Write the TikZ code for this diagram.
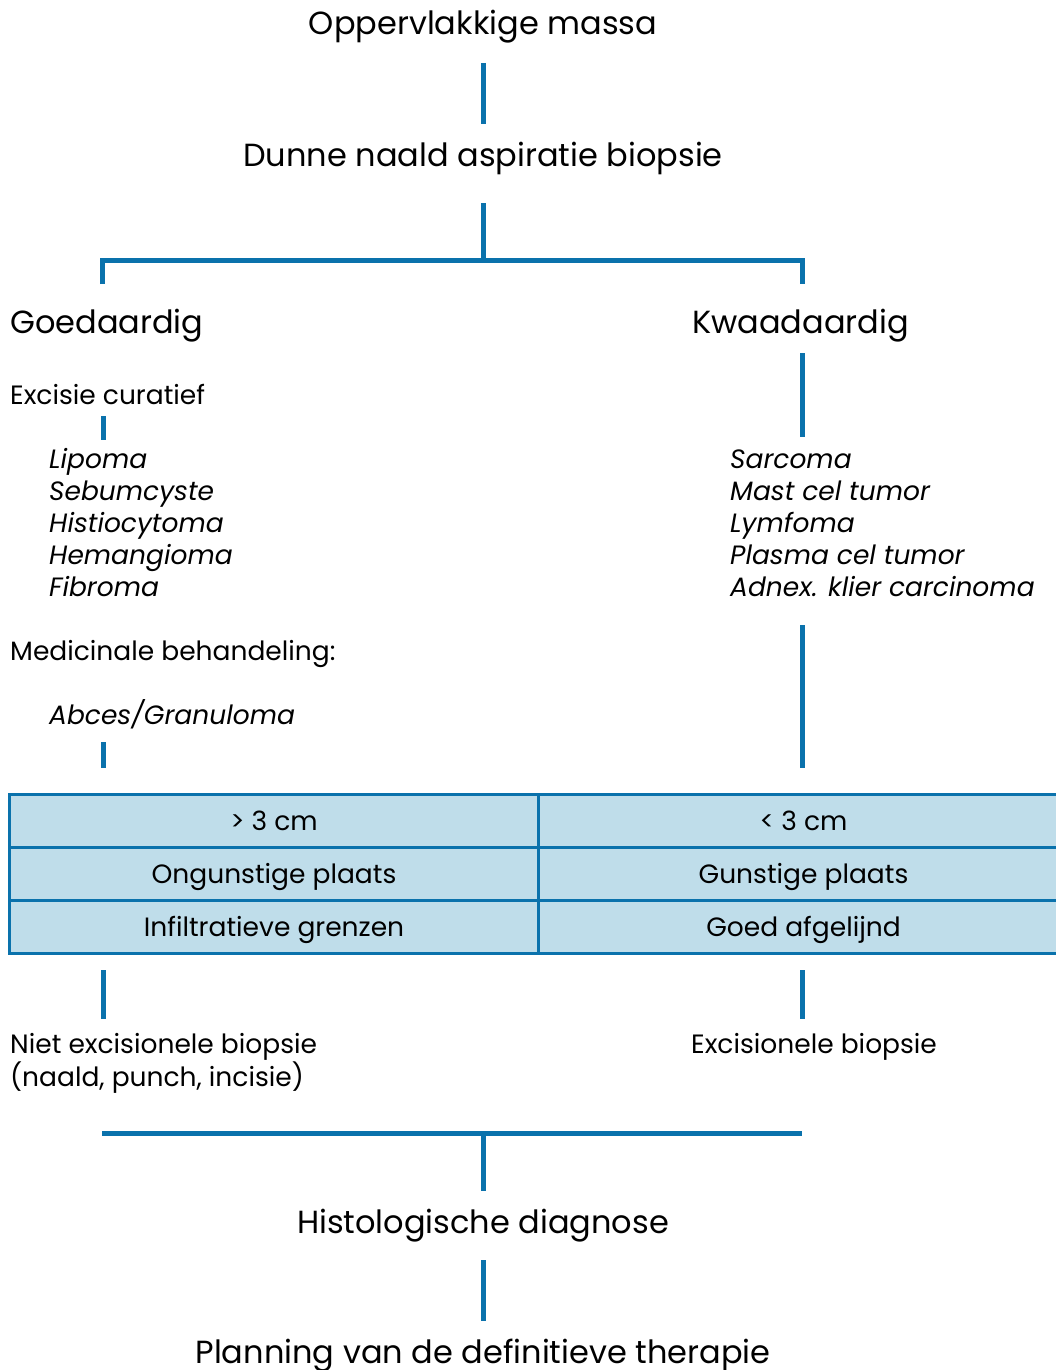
\documentclass[tikz,border=0pt]{standalone}
\usepackage{fontspec}
\setmainfont{Poppins}
\usetikzlibrary{positioning}
\definecolor{lijnblauw}{HTML}{0A72AC}
\definecolor{celblauw}{HTML}{BFDDEA}
\tikzset{
  lijn/.style={draw=lijnblauw, line width=5pt},
  kop/.style={inner sep=0pt, anchor=base, font=\fontsize{32}{38}\selectfont},
  tekst/.style={inner sep=0pt, anchor=base west, font=\fontsize{26.5}{32}\selectfont},
  ziekte/.style={tekst, font=\fontsize{26.5}{32}\selectfont\itshape},
  cel/.style={draw=lijnblauw, line width=2.5pt, fill=celblauw, inner sep=0pt,
    minimum width=529pt, minimum height=53pt, text height=19pt, text depth=0pt,
    font=\fontsize{26.5}{32}\selectfont}
}

\begin{document}
\begin{tikzpicture}[x=1pt,y=-1pt]
\useasboundingbox (0,0) rectangle (1055,1370);
% koppen
\node[kop] (massa) at (483,35) {Oppervlakkige massa};
\node[kop] (dunne) at (483,166) {Dunne naald aspiratie biopsie};
\node[kop, anchor=base west] (goed) at (10,333) {Goedaardig};
\node[kop, anchor=base west] (kwaad) at (692,333) {Kwaadaardig};
\node[kop] (histo) at (483,1233) {Histologische diagnose};
\node[kop] (planning) at (483,1363) {Planning van de definitieve therapie};
% goedaardig
\node[tekst] (curatief) at (10,404) {Excisie curatief};
\node[ziekte] (lipoma) at (49,468) {Lipoma};
\node[ziekte] (sebum) at (49,500) {Sebumcyste};
\node[ziekte] (histio) at (49,532) {Histiocytoma};
\node[ziekte] (heman) at (49,564) {Hemangioma};
\node[ziekte] (fibroma) at (49,596) {Fibroma};
\node[tekst] (medic) at (10,660) {Medicinale behandeling:};
\node[ziekte] (abces) at (49,724) {Abces/Granuloma};
% kwaadaardig
\node[ziekte] (sarcoma) at (730,468) {Sarcoma};
\node[ziekte] (mast) at (730,500) {Mast cel tumor};
\node[ziekte] (lymf) at (730,532) {Lymfoma};
\node[ziekte] (plasma) at (730,564) {Plasma cel tumor};
\node[ziekte] (adnex) at (730,596) {Adnex. klier carcinoma};
% tabel
\node[cel] (groot) at (803.5,821) {< 3 cm};
\node[cel] (gunst) at (803.5,874) {Gunstige plaats};
\node[cel] (afgel) at (803.5,927) {Goed afgelijnd};
\node[cel] (klein) at (274,821) {> 3 cm};
\node[cel] (ongunst) at (274,874) {Ongunstige plaats};
\node[cel] (infil) at (274,927) {Infiltratieve grenzen};
% biopsie
\node[tekst] (niet) at (10,1053) {Niet excisionele biopsie};
\node[tekst] (naald) at (10,1086) {(naald, punch, incisie)};
\node[tekst] (excis) at (691,1053) {Excisionele biopsie};
% lijnen
\coordinate (splits) at (483,260);
\coordinate (goedtak) at (102,284);
\coordinate (kwaadtak) at (802,284);
\draw[lijn, shorten <=28pt, shorten >=42pt] (massa.base) -- (dunne.base);
\draw[lijn, shorten <=37pt] (dunne.base) -- (splits);
\draw[lijn] (goedtak) |- (splits) -| (kwaadtak);
\coordinate (l1) at (103,416); \coordinate (l2) at (103,440);
\coordinate (l3) at (103,742); \coordinate (l4) at (103,768);
\coordinate (l5) at (103,970); \coordinate (l6) at (103,1019);
\coordinate (r1) at (802,353); \coordinate (r2) at (802,437);
\coordinate (r3) at (802,625); \coordinate (r4) at (802,768);
\coordinate (r5) at (802,970); \coordinate (r6) at (802,1019);
\draw[lijn] (l1) -- (l2);
\draw[lijn] (l3) -- (l4);
\draw[lijn] (l5) -- (l6);
\draw[lijn] (r1) -- (r2);
\draw[lijn] (r3) -- (r4);
\draw[lijn] (r5) -- (r6);
\coordinate (eindl) at (102,1133);
\coordinate (samen) at (483,1133);
\coordinate (eindr) at (802,1133);
\draw[lijn] (eindl) -- (eindr);
\draw[lijn, shorten >=42pt] (samen) -- (histo.base);
\draw[lijn, shorten <=27pt, shorten >=42pt] (histo.base) -- (planning.base);
\end{tikzpicture}
\end{document}
